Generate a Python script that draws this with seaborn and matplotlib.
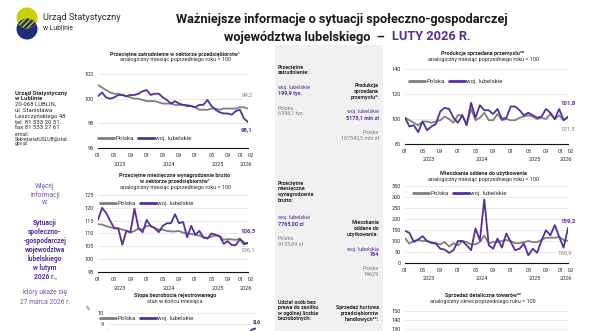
import numpy as np
import pandas as pd
import matplotlib
matplotlib.use("Agg")
import matplotlib.pyplot as plt
import seaborn as sns
from matplotlib.patches import Rectangle, Circle
from matplotlib.lines import Line2D

# ---------------- data ----------------
months = [f"{y}-{m:02d}" for y in (2023, 2024, 2025) for m in range(1, 13)] + ["2026-01", "2026-02"]
tick_pos = [0, 4, 8, 12, 16, 20, 24, 28, 32, 36, 37]
tick_labels = ["01", "05", "09", "01", "05", "09", "01", "05", "09", "01", "02"]
year_labels = ["2023", "2024", "2025", "2026"]
year_pos = [5.5, 17.5, 29.5, 36.5]
series_names = ["Polska", "woj. lubelskie"]

emp_pl = [101.1, 100.9, 100.7, 100.5, 100.4, 100.4, 100.3, 100.2, 100.1, 100.0, 100.0, 99.9,
          99.8, 99.8, 99.8, 99.7, 99.6, 99.6, 99.6, 99.5, 99.5, 99.5, 99.5, 99.4,
          99.3, 99.1, 99.1, 99.1, 99.2, 99.2, 99.1, 99.2, 99.2, 99.2, 99.2, 99.3,
          99.3, 99.2]
emp_lub = [100.2, 100.5, 100.1, 100.0, 100.1, 100.3, 100.3, 100.2, 100.3, 100.3, 100.4, 100.6,
           100.7, 100.3, 100.4, 100.4, 100.1, 99.9, 99.6, 99.8, 99.6, 99.5, 99.4, 99.4,
           99.3, 99.5, 99.5, 99.9, 99.4, 99.1, 98.9, 98.8, 98.8, 98.7, 99.0, 99.1,
           98.4, 98.1]

wage_pl = [113.6, 113.5, 112.9, 112.4, 112.2, 112.0, 111.5, 111.2, 110.4, 111.0, 112.0, 111.5,
           113.0, 112.8, 112.2, 111.5, 111.5, 111.0, 110.8, 110.8, 111.0, 110.3, 110.0, 109.8,
           109.5, 109.2, 108.5, 108.3, 108.8, 109.2, 109.0, 107.5, 107.8, 107.7, 107.5, 108.0,
           106.5, 106.1]
wage_lub = [115.3, 120.0, 118.0, 115.0, 112.0, 112.0, 105.6, 111.0, 110.5, 119.7, 112.0, 110.5,
            115.3, 113.0, 112.0, 110.5, 113.0, 114.0, 114.0, 117.5, 114.0, 114.5, 108.5, 113.0,
            109.5, 111.0, 108.5, 108.0, 110.0, 109.5, 109.0, 106.0, 107.0, 105.5, 105.5, 107.8,
            105.8, 106.3]

unemp_pl = [5.5, 5.5, 5.4, 5.2, 5.1, 5.0, 5.0, 5.0, 5.0, 5.0, 5.0, 5.1,
            5.4, 5.4, 5.3, 5.1, 5.0, 4.9, 4.9, 5.0, 5.0, 5.0, 5.0, 5.1,
            5.4, 5.4, 5.3, 5.2, 5.2, 5.2, 5.4, 5.5, 5.6, 5.6, 5.7, 5.7,
            6.0, 6.1]
unemp_lub = [8.3, 8.2, 8.0, 7.7, 7.5, 7.4, 7.4, 7.4, 7.3, 7.3, 7.4, 7.6,
             7.9, 7.9, 7.7, 7.5, 7.3, 7.2, 7.2, 7.2, 7.1, 7.1, 7.2, 7.4,
             7.7, 7.7, 7.6, 7.4, 7.4, 7.4, 7.5, 7.6, 7.6, 7.7, 7.9, 8.1,
             8.5, 8.6]

prod_pl = [101, 99, 97, 95, 98, 98, 97, 98, 99, 102, 100, 97,
           103, 103, 96, 108, 99, 101, 105, 99, 99, 104, 99, 100,
           99, 99, 101, 102, 103, 102, 100, 101, 100, 104, 100, 103,
           99, 101.5]
prod_lub = [101, 94, 95, 89.5, 98, 91, 94, 96, 106, 109, 108, 101,
            97, 103, 95, 113, 101, 111, 107, 107, 104, 108, 100, 101,
            110, 110, 107, 103, 105, 103, 101, 102, 108, 105, 100, 108,
            99, 101.8]

dw_pl = [113, 88, 100, 105, 100, 100, 95, 90, 85, 95, 75, 90,
         80, 100, 95, 85, 85, 95, 125, 90, 95, 95, 100, 105,
         100, 90, 90, 95, 100, 95, 95, 105, 115, 115, 115, 118,
         105, 100.9]
dw_lub = [146, 137, 96, 107, 122, 100, 91, 88, 65, 61, 46, 58,
          100, 100, 81, 58, 157, 103, 289, 81, 65, 111, 70, 134,
          96, 58, 65, 88, 35, 65, 46, 103, 149, 126, 172, 119,
          70, 159.2]

# ---------------- style ----------------
sns.set_theme(style="white")
plt.rcParams['font.family'] = ['Roboto', 'DejaVu Sans']

W, H = 590, 331
PURPLE = "#56309a"
LPURPLE = "#7a55b0"
GREY = "#7f7f7f"
TXT = "#2b2b2b"
palette = {"Polska": GREY, "woj. lubelskie": PURPLE}

fig = plt.figure(figsize=(W / 100, H / 100), dpi=100)
fig.patch.set_facecolor("white")

# overlay in pixel coordinates for background and free text
ov = fig.add_axes([0, 0, 1, 1], zorder=0)
ov.set_xlim(0, W)
ov.set_ylim(H, 0)
ov.axis("off")

# middle grey panel
ov.add_patch(Rectangle((275, 45), 108, 290, color="#f1f1f1", lw=0))

# logo
navy = Circle((27, 29), 10.5, color="#1f2c78", lw=0)
yel = Circle((27, 18), 10.5, color="#c6d100", lw=0)
ov.add_patch(navy)
ov.add_patch(yel)
hatch = Circle((27, 18), 10.5, facecolor="#1f2c78", edgecolor="#c6d100", hatch="//////", lw=0)
ov.add_patch(hatch)
hatch.set_clip_path(navy)
ov.text(43, 17, "Urząd Statystyczny", fontsize=6.6, color=TXT, va="center", ha="left")
ov.text(43, 28, "w Lublinie", fontsize=4.9, color=TXT, va="center", ha="left")

# main title
ov.text(342, 19, "Ważniejsze informacje o sytuacji społeczno-gospodarczej", fontsize=9.2,
        weight="bold", color="#1a1a1a", ha="center", va="center")
ov.text(385, 37, "województwa lubelskiego  –", fontsize=9.2, weight="bold", color="#1a1a1a",
        ha="right", va="center")
ov.text(392, 37, "LUTY 2026 R.", fontsize=9.2, weight="bold", color=PURPLE, ha="left", va="center")

# left column: address
addr = [("Urząd Statystyczny", "bold"), ("w Lublinie", "bold"), ("20-068 LUBLIN,", "normal"),
        ("ul. Stanisława", "normal"), ("Leszczyńskiego 48", "normal"), ("tel. 81 533 20 51,", "normal"),
        ("fax 81 533 27 61", "normal")]
for i, (t, w) in enumerate(addr):
    ov.text(15, 93 + i * 5.8, t, fontsize=4.3, weight=w, color=TXT, va="center", ha="left")
ov.text(15, 134, "e-mail:", fontsize=3.6, color=TXT, va="center", ha="left")
ov.text(15, 139, "SekretariatUSLUB@stat.", fontsize=3.6, color=TXT, va="center", ha="left")
ov.text(15, 144, "gov.pl", fontsize=3.6, color=TXT, va="center", ha="left")

# left column: more info
for t, y in [("Więcej", 187), ("informacji", 195), ("w:", 203)]:
    ov.text(45, y, t, fontsize=4.8, color=LPURPLE, ha="center", va="center")
for t, y in [("Sytuacji", 223), ("społeczno-", 232), ("-gospodarczej", 241), ("województwa", 250),
             ("lubelskiego", 259), ("w lutym", 268), ("2026 r.,", 277)]:
    ov.text(45, y, t, fontsize=4.8, weight="bold", color=PURPLE, ha="center", va="center")
for t, y in [("który ukaże się", 293), ("27 marca 2026 r.", 302)]:
    ov.text(45, y, t, fontsize=4.8, color=LPURPLE, ha="center", va="center")

# middle panel texts
def block(x, ha, head, ystart, lub, pl, y_lub, y_pl):
    for i, t in enumerate(head):
        ov.text(x, ystart + i * 5.7, t, fontsize=3.9, weight="bold", color=TXT, ha=ha, va="center")
    ov.text(x, y_lub, "woj. lubelskie", fontsize=3.9, color=PURPLE, ha=ha, va="center")
    ov.text(x, y_lub + 5.7, lub, fontsize=3.9, weight="bold", color=PURPLE, ha=ha, va="center")
    ov.text(x, y_pl, "Polska", fontsize=3.9, color=GREY, ha=ha, va="center")
    ov.text(x, y_pl + 5.7, pl, fontsize=3.9, color=GREY, ha=ha, va="center")

block(278, "left", ["Przeciętne", "zatrudnienie:"], 67, "199,9 tys.", "6398,1 tys.", 88, 108)
block(379, "right", ["Produkcja", "sprzedana", "przemysłu²:"], 86, "5175,1 mln zł", "187542,5 mln zł", 112, 132)
block(278, "left", ["Przeciętne", "miesięczne", "wynagrodzenie", "brutto:"], 183, "7765,00 zł", "9135,69 zł", 218, 238)
block(379, "right", ["Mieszkania", "oddane do", "użytkowania:"], 223, "764", "14629", 249, 269)
for i, t in enumerate(["Udział osób bez", "prawa do zasiłku", "w ogólnej liczbie", "bezrobotnych:"]):
    ov.text(278, 302 + i * 5.5, t, fontsize=3.9, weight="bold", color=TXT, ha="left", va="center")
for i, t in enumerate(["Sprzedaż hurtowa", "przedsiębiorstw", "handlowych²ᶜ:"]):
    ov.text(379, 308 + i * 5.5, t, fontsize=3.9, weight="bold", color=TXT, ha="right", va="center")


# ---------------- charts ----------------
def make_ax(x0, x1, ytop, ybot, ylim, yticks, show_x=True):
    ax = fig.add_axes([x0 / W, 1 - ybot / H, (x1 - x0) / W, (ybot - ytop) / H], zorder=2)
    ax.set_facecolor("none")
    ax.set_xlim(0, 37)
    ax.set_ylim(*ylim)
    ax.set_yticks(yticks)
    for s in ("left", "right", "top"):
        ax.spines[s].set_visible(False)
    ax.spines["bottom"].set_color("#111111")
    ax.spines["bottom"].set_linewidth(0.8)
    ax.tick_params(axis="y", length=0, labelsize=4, pad=3, labelcolor=TXT)
    ax.grid(axis="y", color="#e2e2e2", lw=0.5)
    ax.grid(axis="x", visible=False)
    ax.set_axisbelow(True)
    if show_x:
        ax.set_xticks(tick_pos)
        ax.set_xticklabels(tick_labels)
        ax.tick_params(axis="x", length=2.2, width=0.6, direction="out", labelsize=4, pad=1.5,
                       labelcolor=TXT, color="#111111")
        lbls = ax.get_xticklabels()
        lbls[-2].set_horizontalalignment("right")
        lbls[-1].set_horizontalalignment("left")
        for yl, yp in zip(year_labels, year_pos):
            ax.annotate(yl, xy=(yp, 0), xycoords=("data", "axes fraction"), xytext=(0, -16),
                        textcoords="offset pixels", fontsize=4, color=TXT, ha="center", va="center",
                        annotation_clip=False)
    else:
        ax.set_xticks([])
    return ax


def plot_lines(ax, pl, lub):
    df = pd.DataFrame({
        "idx": list(range(len(months))) * 2,
        "value": list(pl) + list(lub),
        "seria": ["Polska"] * len(months) + ["woj. lubelskie"] * len(months),
    })
    sns.lineplot(data=df, x="idx", y="value", hue="seria", hue_order=series_names,
                 palette=palette, linewidth=1.3, ax=ax, legend=False)
    ax.set_xlabel("")
    ax.set_ylabel("")


def add_legend(ax, x, y):
    handles = [Line2D([], [], color=palette[n], lw=2) for n in series_names]
    ax.legend(handles, series_names, loc="center left", bbox_to_anchor=(x / W, 1 - y / H),
              bbox_transform=fig.transFigure, ncol=2, frameon=False, fontsize=4.4,
              handlelength=2.6, handletextpad=0.3, columnspacing=0.6, borderpad=0,
              borderaxespad=0, labelcolor=TXT)


def end_label(ax, val, text, color, dy, dx=0):
    ax.annotate(text, xy=(37, val), xytext=(dx, dy), textcoords="offset pixels", fontsize=4.3,
                color=color, ha="center", va="center", weight="bold" if color == PURPLE else "normal",
                annotation_clip=False)


def titles(xc, y, lines, sub):
    for i, t in enumerate(lines):
        ov.text(xc, y + i * 6, t, fontsize=4.0, weight="bold", color=TXT, ha="center", va="center")
    ov.text(xc, y + len(lines) * 6, sub, fontsize=4.0, color=TXT, ha="center", va="center")


# chart 1 - employment
titles(175, 54, ["Przeciętne zatrudnienie w sektorze przedsiębiorstw¹"],
       "analogiczny miesiąc poprzedniego roku = 100")
ax1 = make_ax(98, 248, 74, 148, (96, 102), [96, 98, 100, 102])
plot_lines(ax1, emp_pl, emp_lub)
add_legend(ax1, 98, 138)
end_label(ax1, emp_pl[-1], "99,2", GREY, 13, -1)
end_label(ax1, emp_lub[-1], "98,1", PURPLE, -8, -1)

# chart 2 - wages
titles(175, 175, ["Przeciętne miesięczne wynagrodzenie brutto", "w sektorze przedsiębiorstw¹"],
       "analogiczny miesiąc poprzedniego roku = 100")
ax2 = make_ax(98, 248, 195, 272, (95, 125), [95, 100, 105, 110, 115, 120, 125])
plot_lines(ax2, wage_pl, wage_lub)
add_legend(ax2, 100, 203)
end_label(ax2, wage_lub[-1], "106,3", PURPLE, 12)
end_label(ax2, wage_pl[-1], "106,1", GREY, -7)

# chart 3 - unemployment (only its top is visible)
titles(175, 295, ["Stopa bezrobocia rejestrowanego"], "stan w końcu miesiąca")
ax3 = make_ax(108, 256, 313, 379, (4, 10), [9, 10], show_x=False)
plot_lines(ax3, unemp_pl, unemp_lub)
add_legend(ax3, 100, 318)
end_label(ax3, unemp_lub[-1], "8,6", PURPLE, 7, 1)
ov.text(88, 309, "%", fontsize=4, color=TXT, ha="center", va="center")

# chart 4 - industrial production
titles(483, 53, ["Produkcja sprzedana przemysłu²ᵃ"], "analogiczny miesiąc poprzedniego roku = 100")
ax4 = make_ax(405, 568, 69, 144, (80, 140), [80, 100, 120, 140])
plot_lines(ax4, prod_pl, prod_lub)
add_legend(ax4, 409, 81)
end_label(ax4, prod_lub[-1], "101,8", PURPLE, 14)
end_label(ax4, prod_pl[-1], "101,5", GREY, -12)

# chart 5 - dwellings
titles(483, 173, ["Mieszkania oddane do użytkowania"], "analogiczny miesiąc poprzedniego roku = 100")
ax5 = make_ax(405, 568, 186, 263, (0, 350), [0, 50, 100, 150, 200, 250, 300, 350])
plot_lines(ax5, dw_pl, dw_lub)
add_legend(ax5, 413, 193)
end_label(ax5, dw_lub[-1], "159,2", PURPLE, 7)
end_label(ax5, dw_pl[-1], "100,9", GREY, -12, -3)

# chart 6 - retail sales (only top visible)
titles(483, 296, ["Sprzedaż detaliczna towarów²ᶜ"], "analogiczny okres poprzedniego roku = 100")
ax6 = make_ax(405, 568, 311, 392, (60, 150), [130, 140, 150], show_x=False)

fig.savefig("out.png", dpi=100, facecolor="white")
